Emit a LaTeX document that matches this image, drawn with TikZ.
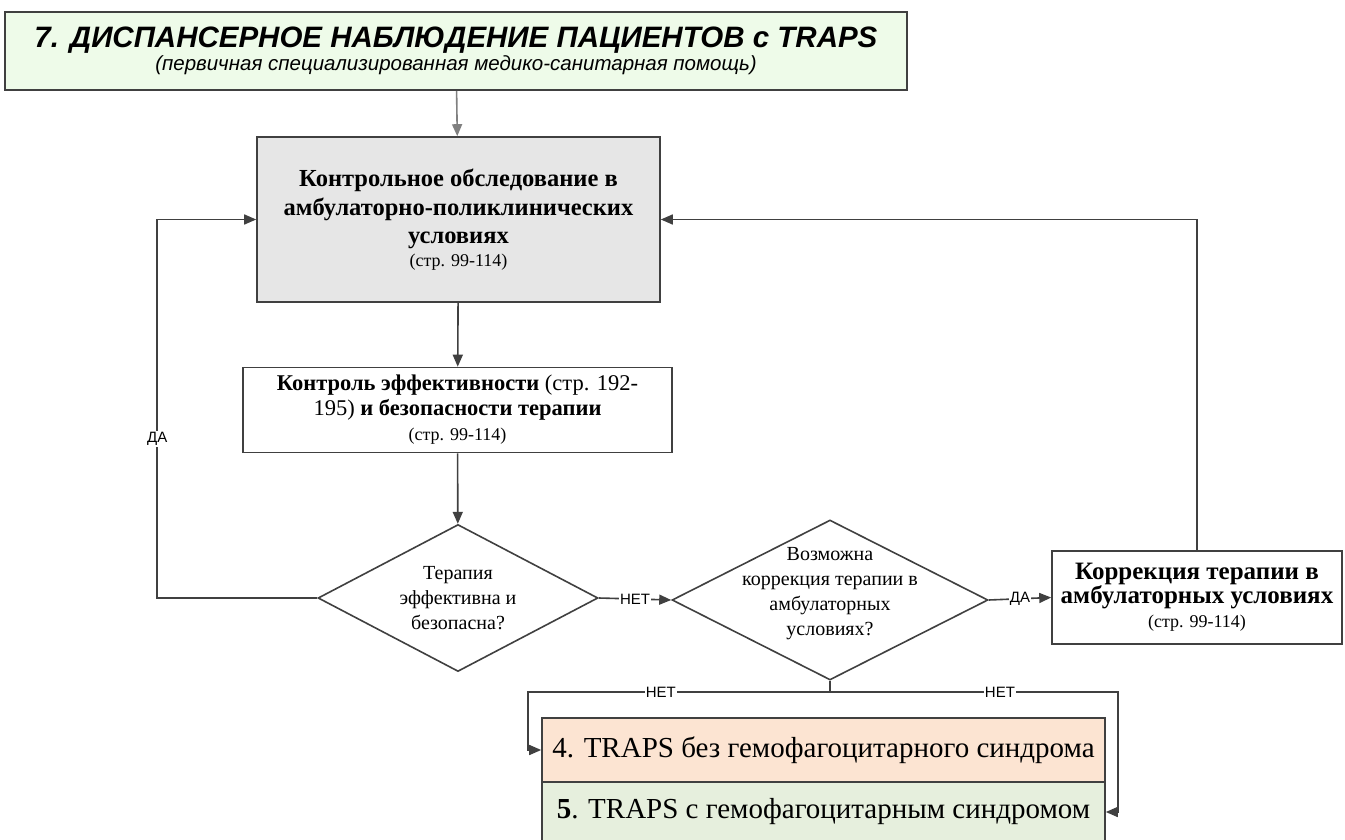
\documentclass[tikz,border=0pt]{standalone}
\usepackage{fontspec}
\setmainfont{Liberation Serif}
\setsansfont{Liberation Sans}
\usetikzlibrary{shapes.geometric,arrows.meta}
\definecolor{titlegreen}{HTML}{EEFBE9}
\definecolor{boxgrey}{HTML}{E6E6E6}
\definecolor{peach}{HTML}{FCE4D2}
\definecolor{sage}{HTML}{E6EFDD}
\definecolor{edge}{HTML}{404040}
\tikzstyle{titlebox}=[draw=edge,line width=2pt,fill=titlegreen,minimum width=902pt,minimum height=78pt,inner sep=0pt,align=center,font=\sffamily]
\tikzstyle{stepbox}=[draw=edge,line width=1.6pt,rectangle,inner sep=0pt,align=center]
\tikzstyle{decision}=[draw=edge,line width=1.6pt,diamond,inner sep=0pt]
\tikzstyle{arr}=[draw=edge,line width=1.6pt,-{Triangle[length=12pt,width=10pt]}]
\tikzstyle{lbl}=[fill=white,inner sep=1pt,font=\sffamily\fontsize{15}{15}\selectfont]
\newcommand{\pagesmall}{\fontsize{18}{20}\selectfont\mdseries}

\begin{document}
\begin{tikzpicture}[x=1pt,y=-1pt]
    \useasboundingbox (0,0) rectangle (1345,840);
    \node[titlebox] (title) at (456,51) {{\fontsize{29.5}{30}\selectfont\bfseries\itshape 7. ДИСПАНСЕРНОЕ НАБЛЮДЕНИЕ ПАЦИЕНТОВ с TRAPS}\\[1pt]
        {\fontsize{20.5}{21}\selectfont\itshape (первичная специализированная медико-санитарная помощь)}};
    \node[stepbox,fill=boxgrey,minimum width=403pt,minimum height=165pt,font=\fontsize{24.5}{28.5}\selectfont\bfseries] (exam) at (458.5,219.5)
        {Контрольное обследование в\\ амбулаторно-поликлинических\\ условиях\\[-6pt] {\pagesmall (стр. 99-114)}};
    \node[stepbox,fill=white,minimum width=429pt,minimum height=85pt,font=\fontsize{22.5}{25}\selectfont] (control) at (457.5,410)
        {\textbf{Контроль эффективности} (стр. 192-\\ 195) \textbf{и безопасности терапии}\\ {\pagesmall (стр. 99-114)}};
    \node[decision,minimum width=280pt,minimum height=147pt,
        label={[align=center,font=\fontsize{20}{25}\selectfont]center:{Терапия\\эффективна и\\безопасна?}}] (safe) at (458,598) {};
    \node[decision,minimum width=316pt,minimum height=160pt,
        label={[align=center,font=\fontsize{20}{25}\selectfont,yshift=6pt]center:{Возможна\\коррекция терапии в\\амбулаторных\\условиях?}}] (local) at (830,600) {};
    \node[stepbox,fill=white,minimum width=290pt,minimum height=93pt,font=\fontsize{25}{23}\selectfont\bfseries] (adjust) at (1197,597.5)
        {Коррекция терапии в\\ амбулаторных условиях\\[1pt] {\pagesmall (стр. 99-114)}};
    \node[stepbox,fill=peach,minimum width=563pt,minimum height=64pt] (noHLH) at (823.5,750)
        {\fontsize{29}{30}\selectfont 4. TRAPS без гемофагоцитарного синдрома};
    \node[stepbox,fill=sage,minimum width=563pt,minimum height=60pt] (HLH) at (823.5,812)
        {\fontsize{29}{30}\selectfont\textbf{5}. TRAPS с гемофагоцитарным синдромом};

    \coordinate (split) at (830,692);
    \coordinate (leftturn) at (528,692);
    \coordinate (rightturn) at (1118,692);

    \draw[arr,draw=gray] (title) -- (exam);
    \foreach \from/\to in {exam/control,control/safe}
    \draw[arr] (\from) -- (\to);
    \draw[arr] (safe.west) -- ++(-160,0) |- node[lbl,pos=0.21]{ДА} (exam.west);
    \draw[arr] (safe.east) -- node[lbl]{НЕТ} (local.west);
    \draw[arr] (local.east) -- node[lbl]{ДА} (adjust.west);
    \draw[arr] (adjust.north) |- (exam.east);
    \draw[line width=1.6pt,draw=edge] (local.south) -- (split);
    \draw[arr] (split) -- node[lbl,pos=0.56]{НЕТ} (leftturn) |- (noHLH.west);
    \draw[arr] (split) -- node[lbl,pos=0.59]{НЕТ} (rightturn) |- (HLH.east);
\end{tikzpicture}
\end{document}
